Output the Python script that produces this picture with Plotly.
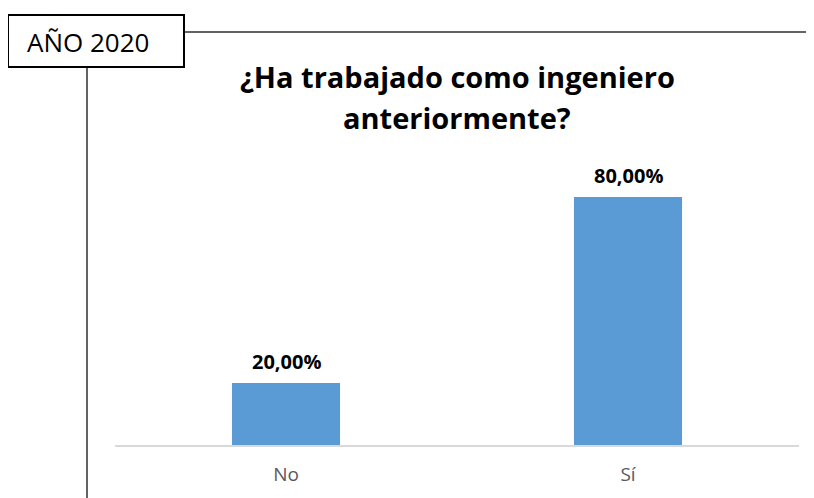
import plotly.graph_objects as go

categories = ["No", "Sí"]
values = [20.0, 80.0]
value_labels = ["20,00%", "80,00%"]
title_lines = ["¿Ha trabajado como ingeniero", "anteriormente?"]
year_label = "AÑO 2020"

W, H = 814, 498
OFF = 8  # default page body margin
L, R, T, B = 107, 23, 158, 61
pw, ph = W - L - R, H - T - B
FONT = "Open Sans"

def px(x):
    return (x - OFF - L) / pw

def py(y):
    return (H - B - (y - OFF)) / ph

fig = go.Figure()
fig.add_trace(go.Bar(
    x=categories, y=values,
    marker=dict(color="#5B9BD5", line=dict(width=0)),
    hoverinfo="skip",
))

for c, v, t in zip(categories, values, value_labels):
    fig.add_annotation(x=c, y=v, text=f"<b>{t}</b>", showarrow=False,
                       yanchor="middle", yshift=22,
                       font=dict(family=FONT, size=20, color="#000000"))

for line, yc in zip(title_lines, [76, 118]):
    fig.add_annotation(xref="paper", yref="paper", x=px(457), y=py(yc),
                       text=f"<b>{line}</b>", showarrow=False,
                       xanchor="center", yanchor="middle",
                       font=dict(family=FONT, size=29, color="#000000"))

# frame lines and year box
fig.add_shape(type="line", xref="paper", yref="paper",
              x0=px(184), x1=px(822), y0=py(32), y1=py(32),
              line=dict(color="#636363", width=2))
fig.add_shape(type="line", xref="paper", yref="paper",
              x0=px(87), x1=px(87), y0=py(67), y1=py(506),
              line=dict(color="#636363", width=2))
fig.add_shape(type="rect", xref="paper", yref="paper",
              x0=px(8), x1=px(184), y0=py(15), y1=py(67),
              line=dict(color="#000000", width=2), fillcolor="white")
fig.add_annotation(xref="paper", yref="paper", x=px(88), y=py(42),
                   text=year_label, showarrow=False,
                   xanchor="center", yanchor="middle",
                   font=dict(family=FONT, size=26, color="#000000"))

fig.update_layout(
    width=W, height=H,
    margin=dict(l=L, r=R, t=T, b=B),
    paper_bgcolor="white", plot_bgcolor="white",
    bargap=0.684,
    showlegend=False,
    xaxis=dict(showgrid=False, zeroline=False, showline=True,
               linecolor="#D9D9D9", linewidth=2,
               ticks="outside", ticklen=11, tickcolor="rgba(0,0,0,0)",
               tickfont=dict(family=FONT, size=19, color="#595959")),
    yaxis=dict(range=[0, 90], visible=False),
)

fig.write_html("out.html", config={"displayModeBar": False})
